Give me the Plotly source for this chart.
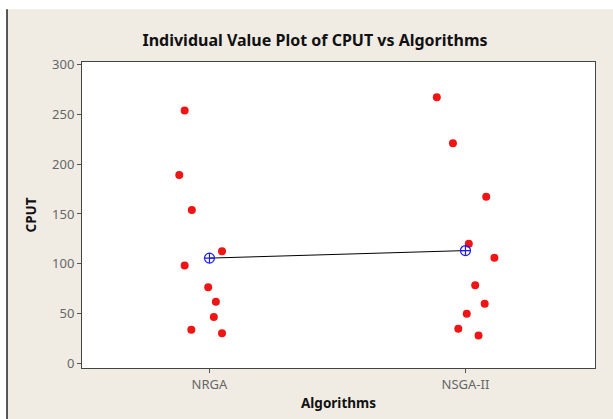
import numpy as np
import plotly.graph_objects as go

categories = ["NRGA", "NSGA-II"]
nrga_cput = [253.8, 189.0, 154.0, 112.5, 98.4, 76.5, 62.0, 46.6, 34.0, 30.5]
nsga_cput = [266.9, 220.9, 167.2, 120.2, 106.0, 78.5, 60.0, 50.0, 35.0, 28.2]
# horizontal jitter offsets (in category units) as seen in the picture
nrga_jitter = [-0.097, -0.118, -0.069, 0.049, -0.097, -0.005, 0.025, 0.017, -0.071, 0.049]
nsga_jitter = [-0.112, -0.049, 0.081, 0.013, 0.113, 0.038, 0.075, 0.005, -0.028, 0.051]
y_ticks = [0, 50, 100, 150, 200, 250, 300]

series = [nrga_cput, nsga_cput]
jitters = [nrga_jitter, nsga_jitter]
positions = [1, 2]

fig = go.Figure()

for pos, vals, jit in zip(positions, series, jitters):
    fig.add_trace(go.Scatter(
        x=[pos + j for j in jit], y=vals, mode="markers",
        marker=dict(color="#f01414", size=8, line=dict(width=0)),
        showlegend=False, hoverinfo="y"))

means = [float(np.mean(v)) for v in series]
fig.add_trace(go.Scatter(
    x=positions, y=means, mode="lines+markers",
    line=dict(color="black", width=1),
    marker=dict(symbol="circle-cross-open", color="#1a1aff", size=10,
                line=dict(width=1.2, color="#1a1aff")),
    showlegend=False))

font_fam = "Noto Sans, Open Sans, DejaVu Sans, sans-serif"

fig.update_layout(
    width=613, height=419,
    margin=dict(l=82, r=18, t=62, b=51),
    paper_bgcolor="white",
    plot_bgcolor="white",
    font=dict(family=font_fam, color="#555555", size=12),
    title=dict(text="<b>Individual Value Plot of CPUT vs Algorithms</b>",
               x=315/613, xanchor="center", y=1 - 40/419, yanchor="middle",
               font=dict(size=16, color="#111111", family=font_fam)),
    shapes=[
        dict(type="rect", xref="paper", yref="paper",
             x0=(7 - 82) / 513, x1=(613 - 82) / 513,
             y0=(367.7 - 425) / 306, y1=(367.7 - 9) / 306,
             fillcolor="#f0ece4", line=dict(width=0), layer="below"),
        dict(type="line", xref="paper", yref="paper",
             x0=(7 - 82) / 513, x1=(7 - 82) / 513,
             y0=(367.7 - 425) / 306, y1=(367.7 - 9) / 306,
             line=dict(color="#222222", width=1.5), layer="below"),
        dict(type="rect", xref="paper", yref="paper",
             x0=0, x1=1, y0=0, y1=1,
             fillcolor="white", line=dict(width=0), layer="below"),
    ],
)

fig.update_xaxes(
    range=[0.502, 2.506], tickvals=positions, ticktext=categories,
    ticks="outside", ticklen=4, tickcolor="#555555",
    showline=True, linecolor="#444444", linewidth=1, mirror=True,
    showgrid=False, zeroline=False,
    title=dict(text="<b>Algorithms</b>", standoff=6,
               font=dict(size=13.5, color="#111111")),
    tickfont=dict(size=13, color="#666666"))

fig.update_yaxes(
    range=[-4.4, 302.3], tickvals=y_ticks,
    ticks="outside", ticklen=4, tickcolor="#555555",
    showline=True, linecolor="#444444", linewidth=1, mirror=True,
    showgrid=False, zeroline=False,
    title=dict(text="<b>CPUT</b>", standoff=12,
               font=dict(size=13.5, color="#111111")),
    tickfont=dict(size=13, color="#666666"))

fig.write_html("out.html",
               config={"displayModeBar": False},
               post_script="document.body.style.margin='0';document.body.style.padding='0';")
